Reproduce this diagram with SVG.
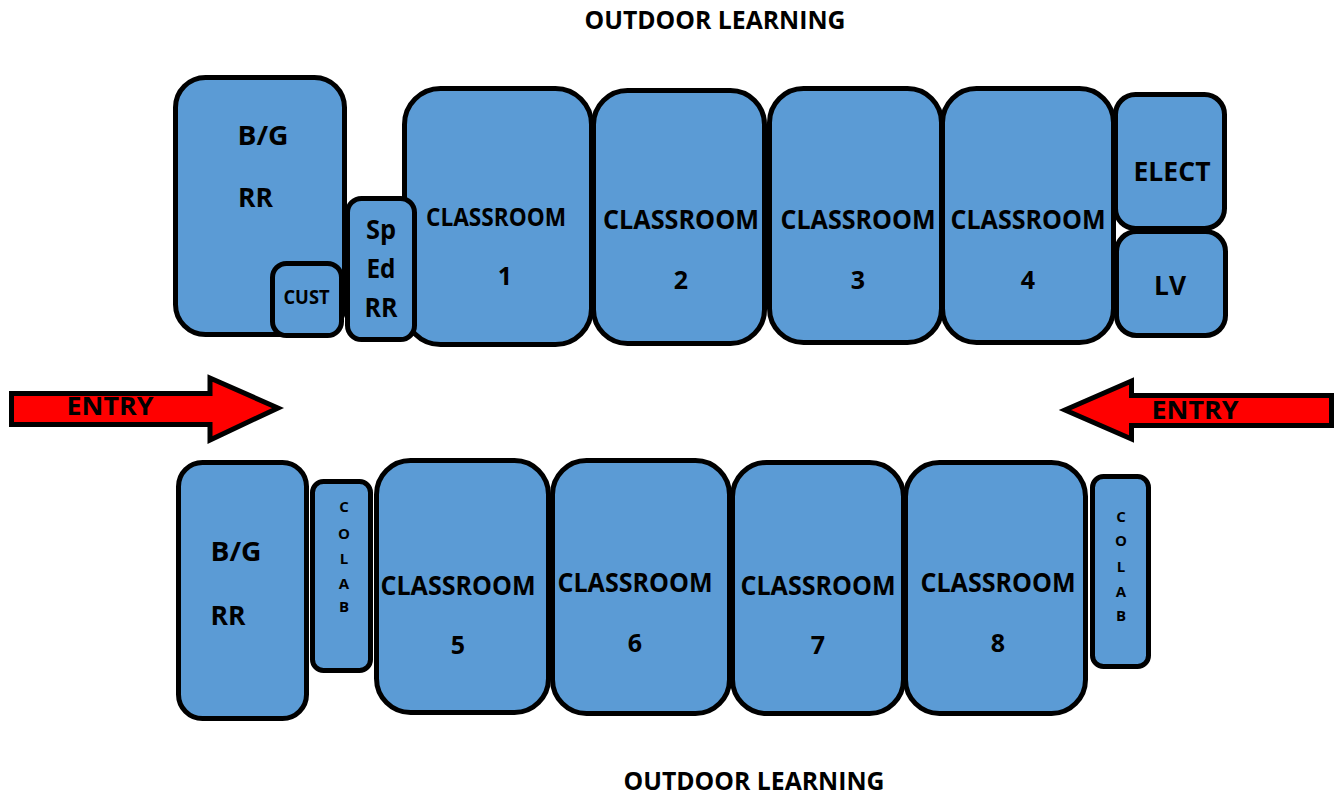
<svg xmlns="http://www.w3.org/2000/svg" width="1334" height="795" viewBox="0 0 1334 795">
<style>
.r{fill:#5b9bd5;stroke:#000;stroke-width:5}
.a{fill:#f00;stroke:#000;stroke-width:5;stroke-miterlimit:10}
text{font-family:"Open Sans","Noto Sans","Liberation Sans",sans-serif;font-weight:700;fill:#000;text-anchor:middle}
.c{font-size:25px}.b{font-size:27px}.l{font-size:27px}.s{font-size:15px}.t{font-size:19px}
</style>
<rect width="1334" height="795" fill="#fff"/>
<text id="outdoor-top" x="715" y="29" class="c" textLength="261" lengthAdjust="spacingAndGlyphs">OUTDOOR LEARNING</text>
<text id="outdoor-bottom" x="754" y="790" class="c" textLength="261" lengthAdjust="spacingAndGlyphs">OUTDOOR LEARNING</text>
<g id="bg-rr-top"><rect class="r" x="175.500" y="77.500" width="169" height="257" rx="30"/><text class="l" x="263" y="145" textLength="51" lengthAdjust="spacingAndGlyphs">B/G</text><text class="l" x="255.500" y="207" textLength="35" lengthAdjust="spacingAndGlyphs">RR</text></g>
<g id="cust"><rect class="r" x="272.500" y="263.500" width="69" height="72" rx="14"/><text x="306.500" y="304" class="t" textLength="46" lengthAdjust="spacingAndGlyphs">CUST</text></g>
<g id="classroom-1"><rect class="r" x="404.500" y="88.500" width="187" height="256" rx="36"/><text x="496" y="226" class="c" textLength="140" lengthAdjust="spacingAndGlyphs">CLASSROOM</text><text class="c" x="505" y="285">1</text></g>
<g id="sp-ed-rr"><rect class="r" x="347.500" y="198.500" width="67" height="141" rx="14"/><text class="l" x="381" y="239" textLength="30" lengthAdjust="spacingAndGlyphs">Sp</text><text class="l" x="381" y="278" textLength="29" lengthAdjust="spacingAndGlyphs">Ed</text><text class="l" x="381" y="317" textLength="33" lengthAdjust="spacingAndGlyphs">RR</text></g>
<g id="classroom-2"><rect class="r" x="593.500" y="90.500" width="171" height="253" rx="34"/><text class="b" x="681" y="229" textLength="156" lengthAdjust="spacingAndGlyphs">CLASSROOM</text><text class="c" x="681" y="289">2</text></g>
<g id="classroom-3"><rect class="r" x="769.500" y="88.500" width="172" height="254" rx="34"/><text class="b" x="858" y="229" textLength="155" lengthAdjust="spacingAndGlyphs">CLASSROOM</text><text class="c" x="858" y="289">3</text></g>
<g id="classroom-4"><rect class="r" x="942.500" y="88.500" width="171" height="254" rx="34"/><text class="b" x="1028" y="229" textLength="155" lengthAdjust="spacingAndGlyphs">CLASSROOM</text><text class="c" x="1028" y="289">4</text></g>
<g id="elect"><rect class="r" x="1115.500" y="94.500" width="109" height="134" rx="20"/><text class="b" x="1172" y="181" textLength="77" lengthAdjust="spacingAndGlyphs">ELECT</text></g>
<g id="lv"><rect class="r" x="1116.500" y="231.500" width="109" height="104" rx="20"/><text class="l" x="1170" y="295" textLength="32" lengthAdjust="spacingAndGlyphs">LV</text></g>
<g id="connectors">
<path id="entry-arrow-left" class="a" d="M11.500 393.500H210V378L278 408 210 440V424.500H11.500Z"/>
<path id="entry-arrow-right" class="a" d="M1331.500 395.500H1131.500V381L1065 410 1131.500 439V425.500H1331.500Z"/>
</g>
<text id="entry-left" class="c" x="110" y="415" textLength="87" lengthAdjust="spacingAndGlyphs">ENTRY</text>
<text id="entry-right" class="c" x="1195" y="419" textLength="87" lengthAdjust="spacingAndGlyphs">ENTRY</text>
<g id="bg-rr-bottom"><rect class="r" x="178.500" y="462.500" width="128" height="256" rx="24"/><text class="l" x="236" y="561" textLength="51" lengthAdjust="spacingAndGlyphs">B/G</text><text class="l" x="228" y="625" textLength="35" lengthAdjust="spacingAndGlyphs">RR</text></g>
<g id="colab-left"><rect class="r" x="312.500" y="481.500" width="58" height="189" rx="11"/><text class="s" x="344" y="512">C</text><text class="s" x="344" y="539">O</text><text class="s" x="344" y="564">L</text><text class="s" x="344" y="589">A</text><text class="s" x="344" y="612">B</text></g>
<g id="classroom-5"><rect class="r" x="376.500" y="460.500" width="172" height="252" rx="34"/><text class="b" x="458" y="595" textLength="155" lengthAdjust="spacingAndGlyphs">CLASSROOM</text><text class="c" x="458" y="654">5</text></g>
<g id="classroom-6"><rect class="r" x="552.500" y="460.500" width="177" height="253" rx="34"/><text class="b" x="635" y="592" textLength="155" lengthAdjust="spacingAndGlyphs">CLASSROOM</text><text class="c" x="635" y="652">6</text></g>
<g id="classroom-7"><rect class="r" x="732.500" y="462.500" width="171" height="251" rx="34"/><text class="b" x="818" y="595" textLength="155" lengthAdjust="spacingAndGlyphs">CLASSROOM</text><text class="c" x="818" y="654">7</text></g>
<g id="classroom-8"><rect class="r" x="905.500" y="462.500" width="180" height="251" rx="34"/><text class="b" x="998" y="592" textLength="155" lengthAdjust="spacingAndGlyphs">CLASSROOM</text><text class="c" x="998" y="652">8</text></g>
<g id="colab-right"><rect class="r" x="1092.500" y="476.500" width="56" height="190" rx="11"/><text class="s" x="1121" y="522">C</text><text class="s" x="1121" y="546">O</text><text class="s" x="1121" y="572">L</text><text class="s" x="1121" y="597">A</text><text class="s" x="1121" y="621">B</text></g>
</svg>
